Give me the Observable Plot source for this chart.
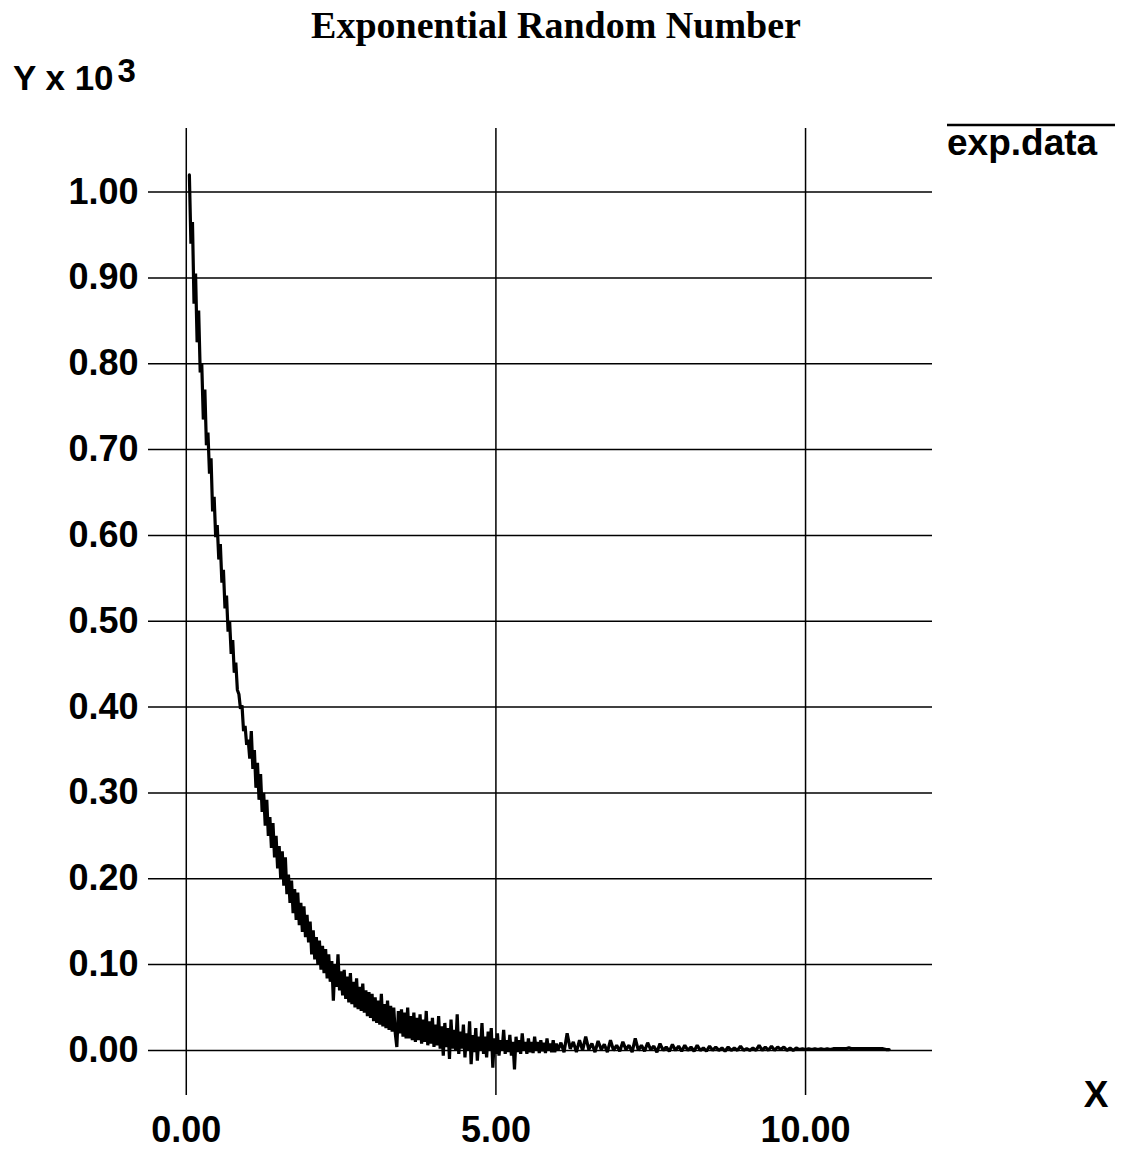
<!DOCTYPE html>
<html>
<head>
<meta charset="utf-8">
<script src="https://cdn.jsdelivr.net/npm/d3@7"></script>
<script src="https://cdn.jsdelivr.net/npm/@observablehq/plot@0.6"></script>
<style>
  html, body { margin: 0; padding: 0; background: #fff; }
  #chart { width: 1130px; height: 1151px; }
</style>
</head>
<body>
<div id="chart"></div>
<script>
// ---- chart texts ----
const titleText = "Exponential Random Number";
const yLabelBase = "Y x 10";
const yLabelExp = "3";
const xLabelText = "X";
const legendText = "exp.data";

// ---- ticks ----
const yTicks = [0.00, 0.10, 0.20, 0.30, 0.40, 0.50, 0.60, 0.70, 0.80, 0.90, 1.00];
const yTickLabels = ["0.00", "0.10", "0.20", "0.30", "0.40", "0.50", "0.60", "0.70", "0.80", "0.90", "1.00"];
const xTicks = [0, 5, 10];
const xTickLabels = ["0.00", "5.00", "10.00"];

// ---- data ----
// segment A: bins from 0.05, width 0.025
const binStartA = 0.05, binWidthA = 0.025;
const valuesA = [
  1.020, 0.940, 0.965, 0.870, 0.905, 0.825, 0.862, 0.790, 0.800, 0.735,
  0.770, 0.705, 0.720, 0.672, 0.690, 0.628, 0.645, 0.598, 0.612, 0.572,
  0.590, 0.545, 0.560, 0.515, 0.530, 0.488, 0.500, 0.462, 0.478, 0.440,
  0.452, 0.420, 0.415, 0.398, 0.402, 0.372, 0.378, 0.356, 0.362,
  0.340, 0.372, 0.328, 0.350, 0.306, 0.335, 0.292, 0.322, 0.278, 0.300,
  0.262, 0.292, 0.250, 0.272, 0.236, 0.265, 0.225, 0.250, 0.212, 0.238,
  0.200, 0.232, 0.192, 0.225, 0.182, 0.205, 0.172, 0.198, 0.160, 0.188,
  0.152, 0.184, 0.146, 0.172, 0.138, 0.168, 0.132, 0.158, 0.126, 0.150
];
// segment B: bins from 2.025, width 0.025
const binStartB = 2.025, binWidthB = 0.025;
const valuesB = [
  0.112, 0.140, 0.106, 0.132, 0.100, 0.128, 0.094, 0.122, 0.090, 0.118,
  0.084, 0.112, 0.080, 0.104, 0.058, 0.100, 0.074, 0.112, 0.070, 0.092,
  0.064, 0.094, 0.060, 0.086, 0.056, 0.090, 0.054, 0.080, 0.050, 0.084,
  0.048, 0.074, 0.046, 0.078, 0.044, 0.070, 0.040, 0.068, 0.038, 0.066,
  0.034, 0.062, 0.032, 0.058, 0.030, 0.066, 0.028, 0.054, 0.026, 0.058,
  0.024, 0.052, 0.022, 0.050, 0.020, 0.004, 0.046, 0.020, 0.048, 0.016,
  0.044, 0.014, 0.050, 0.014, 0.040, 0.012, 0.044, 0.010, 0.038, 0.012,
  0.042, 0.008, 0.036, 0.010, 0.046, 0.006, 0.034, 0.008, 0.038, 0.004,
  0.030, 0.006, 0.040, 0.002, 0.028, -0.006, 0.032, 0.004, 0.026, -0.010,
  0.036, 0.002, 0.024, 0.000, 0.042, -0.004, 0.022, 0.002, 0.030, -0.008,
  0.020, 0.000, 0.034, -0.016, 0.018, -0.002, 0.026, -0.012, 0.016, 0.000,
  0.032, -0.004, 0.016, -0.008, 0.022, 0.000, 0.026, -0.020, 0.014, -0.004,
  0.020, -0.006, 0.012, 0.000, 0.024, -0.004, 0.012, -0.002, 0.018, -0.006,
  0.010, -0.022, 0.016, -0.002, 0.012, -0.004, 0.020, 0.000, 0.010, -0.004,
  0.014, -0.002, 0.010, -0.003, 0.016, 0.000, 0.010, -0.003, 0.012, -0.001,
  0.009, -0.003, 0.014, 0.000, 0.008, -0.002, 0.012, -0.002, 0.008, 0.000
];
// segment C: bins from 6.05, width 0.05
const binStartC = 6.05, binWidthC = 0.05;
const valuesC = [
  0.009, -0.002, 0.020, 0.002, 0.010, -0.002, 0.012, 0.000, 0.016, 0.001,
  0.008, -0.002, 0.011, 0.001, 0.007, -0.002, 0.012, 0.000, 0.006, -0.001,
  0.010, 0.001, 0.006, -0.002, 0.014, 0.000, 0.006, -0.001, 0.009, 0.001,
  0.005, -0.002, 0.008, 0.000, 0.004, -0.001, 0.007, 0.000, 0.005, -0.001,
  0.006, 0.000, 0.004, -0.001, 0.006, 0.000, 0.003, -0.001, 0.005, 0.000,
  0.004, 0.000, 0.003, -0.001, 0.004, 0.000, 0.003, 0.000, 0.005, 0.000,
  0.002, 0.000, 0.003, 0.000, 0.006, 0.000, 0.004, 0.000, 0.005, 0.000,
  0.004, 0.001, 0.004, 0.000, 0.003, 0.000, 0.003, 0.001, 0.002, 0.001,
  0.002, 0.001, 0.002, 0.001, 0.002, 0.001, 0.002, 0.001, 0.002, 0.002,
  0.002, 0.002, 0.002, 0.003, 0.002, 0.002, 0.002, 0.002, 0.002, 0.002,
  0.002, 0.002, 0.002, 0.002, 0.002, 0.001, 0.001
];

const data = [
  ...valuesA.map((v, i) => ({x: binStartA + i * binWidthA, y: v})),
  ...valuesB.map((v, i) => ({x: binStartB + i * binWidthB, y: v})),
  ...valuesC.map((v, i) => ({x: binStartC + i * binWidthC, y: v}))
];

// ---- frame extents (in data units) ----
const xMin = -0.61, xMax = 12.05;
const yMin = -0.0525, yMax = 1.0741;

const W = 1130, H = 1151;
const sans = "'Liberation Sans', Arial, Helvetica, sans-serif";
const serif = "'Liberation Serif', 'Times New Roman', serif";

const plot = Plot.plot({
  width: W,
  height: H,
  marginLeft: 148,
  marginRight: W - 932,
  marginTop: 128,
  marginBottom: H - 1095,
  style: {background: "#fff", color: "#000", fontFamily: sans},
  x: {domain: [xMin, xMax], label: null},
  y: {domain: [yMin, yMax], label: null},
  marks: [
    Plot.ruleY(yTicks, {x1: xMin, x2: xMax, stroke: "#000", strokeWidth: 1.5}),
    Plot.ruleX(xTicks, {y1: yMin, y2: yMax, stroke: "#000", strokeWidth: 1.5}),
    Plot.line(data, {x: "x", y: "y", stroke: "#000", strokeWidth: 3.2, strokeLinejoin: "miter"}),
    Plot.axisY(yTicks, {
      anchor: "left", tickSize: 0, tickPadding: 10, label: null,
      tickFormat: (d) => yTickLabels[yTicks.indexOf(d)],
      fontSize: 36, fontWeight: "bold", fontFamily: sans
    }),
    Plot.axisX(xTicks, {
      anchor: "bottom", tickSize: 0, tickPadding: 21, label: null,
      tickFormat: (d) => xTickLabels[xTicks.indexOf(d)],
      fontSize: 36, fontWeight: "bold", fontFamily: sans
    })
  ]
});

document.getElementById("chart").appendChild(plot);

// ---- titles, axis names and legend ----
const svg = d3.select(plot);
svg.append("text")
  .attr("x", 556).attr("y", 38)
  .attr("text-anchor", "middle")
  .attr("font-family", serif).attr("font-weight", "bold").attr("font-size", 38)
  .attr("fill", "#000")
  .text(titleText);

const yl = svg.append("text")
  .attr("x", 13).attr("y", 90)
  .attr("text-anchor", "start")
  .attr("font-family", sans).attr("font-weight", "bold").attr("font-size", 35)
  .attr("fill", "#000");
yl.append("tspan").text(yLabelBase);
yl.append("tspan").attr("dx", 4).attr("dy", -8).attr("font-size", 33).text(yLabelExp);

svg.append("text")
  .attr("x", 1096).attr("y", 1107)
  .attr("text-anchor", "middle")
  .attr("font-family", sans).attr("font-weight", "bold").attr("font-size", 37)
  .attr("fill", "#000")
  .text(xLabelText);

svg.append("line")
  .attr("x1", 947).attr("x2", 1115).attr("y1", 125).attr("y2", 125)
  .attr("stroke", "#000").attr("stroke-width", 2.5);
svg.append("text")
  .attr("x", 947).attr("y", 155)
  .attr("text-anchor", "start")
  .attr("font-family", sans).attr("font-weight", "bold").attr("font-size", 37)
  .attr("fill", "#000")
  .text(legendText);
</script>
</body>
</html>
